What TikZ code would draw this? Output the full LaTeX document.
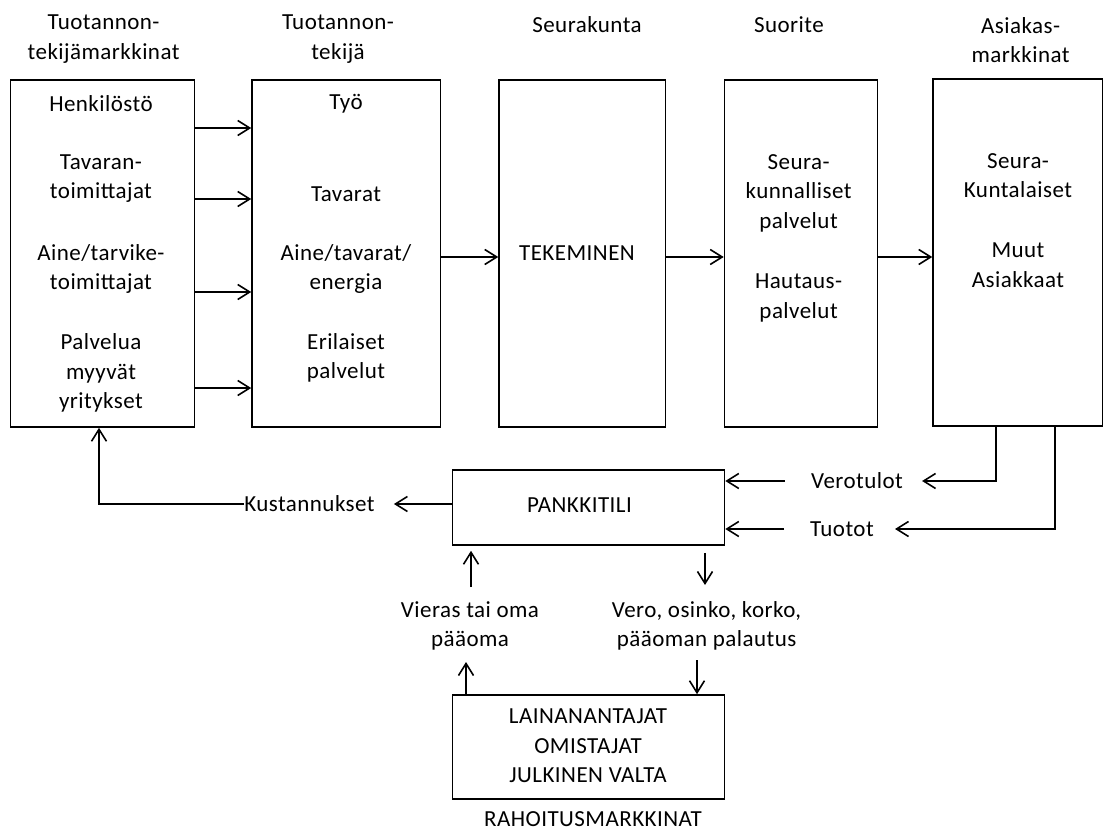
\documentclass[tikz,border=0pt]{standalone}
\usepackage{fontspec}
\setmainfont{Carlito}[LetterSpace=2.0]
\usetikzlibrary{arrows.meta}
\tikzset{>={Straight Barb[length=12pt,width=15pt]}}
\tikzset{
  lohko/.style={draw, line width=1.6pt, inner sep=0pt},
  teksti/.style={align=center, inner sep=0pt, font=\fontsize{23}{29.5}\selectfont},
  virta/.style={->, line width=1.6pt},
}

\begin{document}
\begin{tikzpicture}[x=1pt, y=-1pt]
\useasboundingbox (0,0) rectangle (1104,832);
% laatikot
\node[lohko, minimum width=184pt, minimum height=347pt] (tm) at (102.6,253.5) {};
\node[lohko, minimum width=188.4pt, minimum height=347pt] (tk) at (346.2,253.5) {};
\node[lohko, minimum width=166.5pt, minimum height=347pt] (sk) at (582.3,253.5) {};
\node[lohko, minimum width=153pt, minimum height=347pt] (su) at (801,253.5) {};
\node[lohko, minimum width=169.5pt, minimum height=347pt] (am) at (1017.8,252.5) {};
\node[lohko, minimum width=272pt, minimum height=75pt] (pt) at (588.5,507.5) {};
\node[lohko, minimum width=272pt, minimum height=104pt] (rm) at (588.5,747) {};
% otsikot
\node[teksti] (o1) at (103.6,39) {Tuotannon-\\tekijämarkkinat};
\node[teksti] (o2) at (338,39) {Tuotannon-\\tekijä};
\node[teksti] (o3) at (587,25) {Seurakunta};
\node[teksti] (o4) at (789,25) {Suorite};
\node[teksti] (o5) at (1020.6,40) {Asiakas-\\markkinat};
\node[teksti] (o6) at (593,819) {RAHOITUSMARKKINAT};
% laatikoiden tekstit
\node[teksti] (h1) at (101,104) {Henkilöstö};
\node[teksti] (h2) at (101,178.5) {Tavaran-\\toimittajat};
\node[teksti] (h3) at (101,269) {Aine/tarvike-\\toimittajat};
\node[teksti] (h4) at (101,373) {Palvelua\\myyvät\\yritykset};
\node[teksti] (k1) at (346,104) {Työ};
\node[teksti] (k2) at (346,194) {Tavarat};
\node[teksti] (k3) at (346,269) {Aine/tavarat/\\energia};
\node[teksti] (k4) at (346,358) {Erilaiset\\palvelut};
\node[teksti] (s1) at (577,253) {TEKEMINEN};
\node[teksti] (u1) at (798.6,193) {Seura-\\kunnalliset\\palvelut};
\node[teksti] (u2) at (798.6,298) {Hautaus-\\palvelut};
\node[teksti] (a1) at (1018,175.5) {Seura-\\Kuntalaiset};
\node[teksti] (a2) at (1018,265) {Muut\\Asiakkaat};
\node[teksti] (p1) at (579.5,505) {PANKKITILI};
\node[teksti] (r1) at (588,746) {LAINANANTAJAT\\OMISTAJAT\\JULKINEN VALTA};
% rahavirrat
\node[teksti] (ku) at (309.5,504) {Kustannukset};
\node[teksti] (vt) at (857,481) {Verotulot};
\node[teksti] (tu) at (842,529) {Tuotot};
\node[teksti] (vi) at (470,626) {Vieras tai oma\\pääoma};
\node[teksti] (ve) at (706.6,626) {Vero, osinko, korko,\\pääoman palautus};
\coordinate (d1) at (705,585);
\coordinate (d2) at (697,660);
\coordinate (n1) at (471,587);
\coordinate (n2) at (466,662);
% nuolet
\draw[virta] (tm.east |- 0,128) -- (tk.west |- 0,128);
\draw[virta] (tm.east |- 0,199) -- (tk.west |- 0,199);
\draw[virta] (tm.east |- 0,292) -- (tk.west |- 0,292);
\draw[virta] (tm.east |- 0,388) -- (tk.west |- 0,388);
\draw[virta] (tk.east |- 0,257) -- (sk.west |- 0,257);
\draw[virta] (sk.east |- 0,257) -- (su.west |- 0,257);
\draw[virta] (su.east |- 0,257) -- (am.west |- 0,257);
\draw[virta] (pt.west |- ku) -- ([xshift=19pt]ku.east);
\draw[virta] (ku.west) -| ([xshift=-3.6pt]tm.south);
\draw[virta] ([xshift=-26pt]vt.west) -- (pt.east |- vt);
\draw[virta] ([xshift=-22pt]am.south) |- ([xshift=19pt]vt.east);
\draw[virta] ([xshift=-26pt]tu.west) -- (pt.east |- tu);
\draw[virta] ([xshift=37pt]am.south) |- ([xshift=21pt]tu.east);
\draw[virta, shorten <=7pt] (pt.south -| d1) -- (d1);
\draw[virta] (d2) -- (rm.north -| d2);
\draw[virta, shorten >=5pt] (n1) -- (pt.south -| n1);
\draw[virta] (rm.north -| n2) -- (n2);
\end{tikzpicture}
\end{document}
